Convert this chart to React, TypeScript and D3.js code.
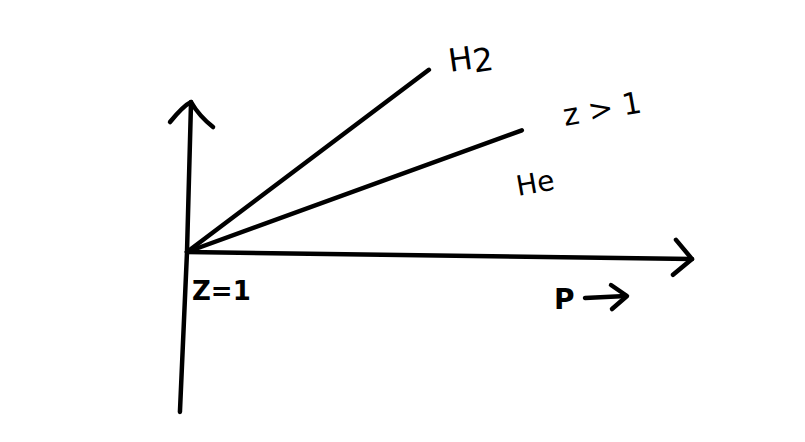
import React from "react";
import * as d3 from "d3";

const width = 805;
const height = 442;

// compressibility sketch: Z vs P
const gases = ["H2", "He"];
const endP = [0.479, 0.663];
const endZ = [2.16, 1.79];
const axisP = [0, 1];
const vAxisP = [-0.014, 0, 0.008];
const vAxisZ = [0, 1, 1.9375];

const x = d3.scaleLinear().domain([0, 1]).range([187, 692]);
const y = d3.scaleLinear().domain([0, 2.2]).range([412, 60]);

const line = d3
  .line<[number, number]>()
  .x(d => x(d[0]))
  .y(d => y(d[1]));

const ink = "#000";
const hand = "'DejaVu Sans', sans-serif";

const App = () => {
  const ox = x(0);
  const oy = y(1);
  // sketch is slightly tilted
  const tilt = `translate(${ox},${oy}) skewY(0.8) translate(${-ox},${-oy})`;

  const xEnd = x(axisP[1]);
  const tipX = x(vAxisP[2]);
  const tipY = y(vAxisZ[2]);

  const vAxis = d3
    .line<[number, number]>()
    .x(d => x(d[0]))
    .y(d => y(d[1]))
    .curve(d3.curveNatural)(vAxisP.map((p, i) => [p, vAxisZ[i]]));

  return (
    <svg width={width} height={height} style={{ position: "absolute", left: 0, top: 0 }}>
      <rect width={width} height={height} fill="#fff" />
      <g fill="none" stroke={ink} strokeWidth={4.5} strokeLinecap="round" strokeLinejoin="round">
        {/* vertical axis */}
        <path d={vAxis || ""} />
        <path d={`M${tipX - 21},${tipY + 20}Q${tipX - 8},${tipY + 4} ${tipX},${tipY}Q${tipX + 8},${tipY + 14} ${tipX + 22},${tipY + 25}`} />
        <g transform={tilt}>
          {/* horizontal axis */}
          <path d={line([[axisP[0], 1], [axisP[1], 1]]) || ""} />
          <path d={`M${xEnd - 16},${oy - 19}L${xEnd},${oy}L${xEnd - 19},${oy + 16}`} />
          {gases.map((g, i) => (
            <path key={g} d={line([[0, 1], [endP[i], endZ[i]]]) || ""} />
          ))}
        </g>
        {/* P arrow */}
        <path d="M585,298L626,296" />
        <path d="M611,285L627,296L612,309" />
      </g>
      <g fill={ink} fontFamily={hand}>
        <text x={450} y={72} fontSize={32} transform="rotate(-8 450 72)">
          H<tspan dy={4}>2</tspan>
        </text>
        <text x={565} y={126} fontSize={30} transform="rotate(-10 565 126)">
          z &gt; 1
        </text>
        <text x={518} y={196} fontSize={28} transform="rotate(-10 518 196)">
          He
        </text>
        <text x={192} y={300} fontSize={26} fontWeight="bold">
          Z=1
        </text>
        <text x={554} y={309} fontSize={28} fontWeight="bold">
          P
        </text>
      </g>
    </svg>
  );
};

export default App;
